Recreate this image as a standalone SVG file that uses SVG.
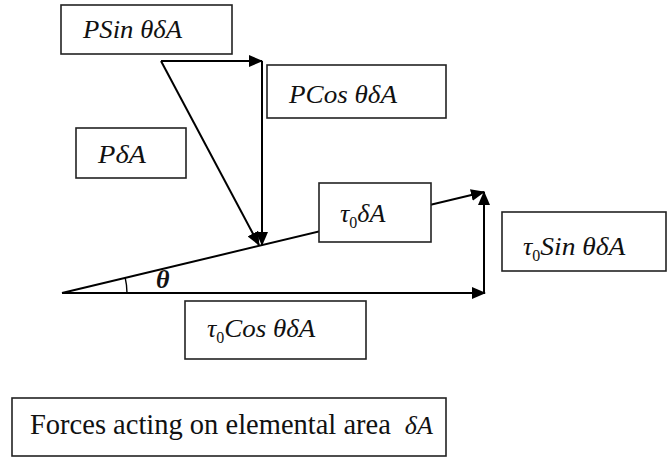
<svg xmlns="http://www.w3.org/2000/svg" width="667" height="458" viewBox="0 0 667 458">
<style>
.box{fill:#fff;stroke:#222;stroke-width:1.6}
.ln{fill:none;stroke:#000;stroke-width:2}
.m{font-family:"Liberation Serif","Times New Roman",serif;font-style:italic;font-size:26px;fill:#111}
.sub{font-size:16px;font-style:normal}
.t{font-family:"Liberation Serif","Times New Roman",serif;font-size:28.5px;fill:#111}
</style>
<defs>
<marker id="ah" markerUnits="userSpaceOnUse" markerWidth="14" markerHeight="12" refX="13" refY="6" orient="auto">
<path d="M0,0 L14,6 L0,12 z" fill="#000"/>
</marker>
</defs>
<g id="connectors">
<path class="ln" d="M161,61 L262,61" marker-end="url(#ah)"/>
<path class="ln" d="M262,61 L262,245" marker-end="url(#ah)"/>
<path class="ln" d="M161,61 L259,245" marker-end="url(#ah)"/>
<path class="ln" d="M62,293 L484,192" marker-end="url(#ah)"/>
<path class="ln" d="M62,293 L485,293" marker-end="url(#ah)"/>
<path class="ln" d="M484,293 L484,192" marker-end="url(#ah)"/>
<path fill="none" stroke="#000" stroke-width="1.4" d="M127,293 A65,65 0 0 0 125.2,277.8"/>
</g>
<g id="n-psin">
<rect class="box" x="61" y="5" width="171" height="49"/>
<text class="m" x="83" y="38" textLength="99" lengthAdjust="spacingAndGlyphs">PSin θδA</text>
</g>
<g id="n-pcos">
<rect class="box" x="267" y="65" width="179" height="53"/>
<text class="m" x="289" y="103" textLength="108" lengthAdjust="spacingAndGlyphs">PCos θδA</text>
</g>
<g id="n-pda">
<rect class="box" x="76" y="128" width="110" height="50"/>
<text class="m" x="98" y="163" textLength="48" lengthAdjust="spacingAndGlyphs">PδA</text>
</g>
<g id="n-tau">
<rect class="box" x="319" y="183" width="112" height="59"/>
<text class="m" x="340" y="222">τ<tspan class="sub" dy="6">0</tspan><tspan dy="-6">δA</tspan></text>
</g>
<g id="n-tausin">
<rect class="box" x="502" y="212" width="164" height="59"/>
<text class="m" x="523" y="255">τ<tspan class="sub" dy="6">0</tspan><tspan dy="-6" textLength="85" lengthAdjust="spacingAndGlyphs">Sin θδA</tspan></text>
</g>
<g id="n-taucos">
<rect class="box" x="185" y="301" width="181" height="58"/>
<text class="m" x="207" y="337">τ<tspan class="sub" dy="6">0</tspan><tspan dy="-6" textLength="91" lengthAdjust="spacingAndGlyphs">Cos θδA</tspan></text>
</g>
<g id="n-theta">
<text class="m" x="156" y="288" font-size="23" font-weight="bold">θ</text>
</g>
<g id="n-caption">
<rect class="box" x="12" y="398" width="434" height="58"/>
<text class="t" x="30" y="434">Forces acting on elemental area<tspan dx="14" font-style="italic" font-size="26">δA</tspan></text>
</g>
</svg>
